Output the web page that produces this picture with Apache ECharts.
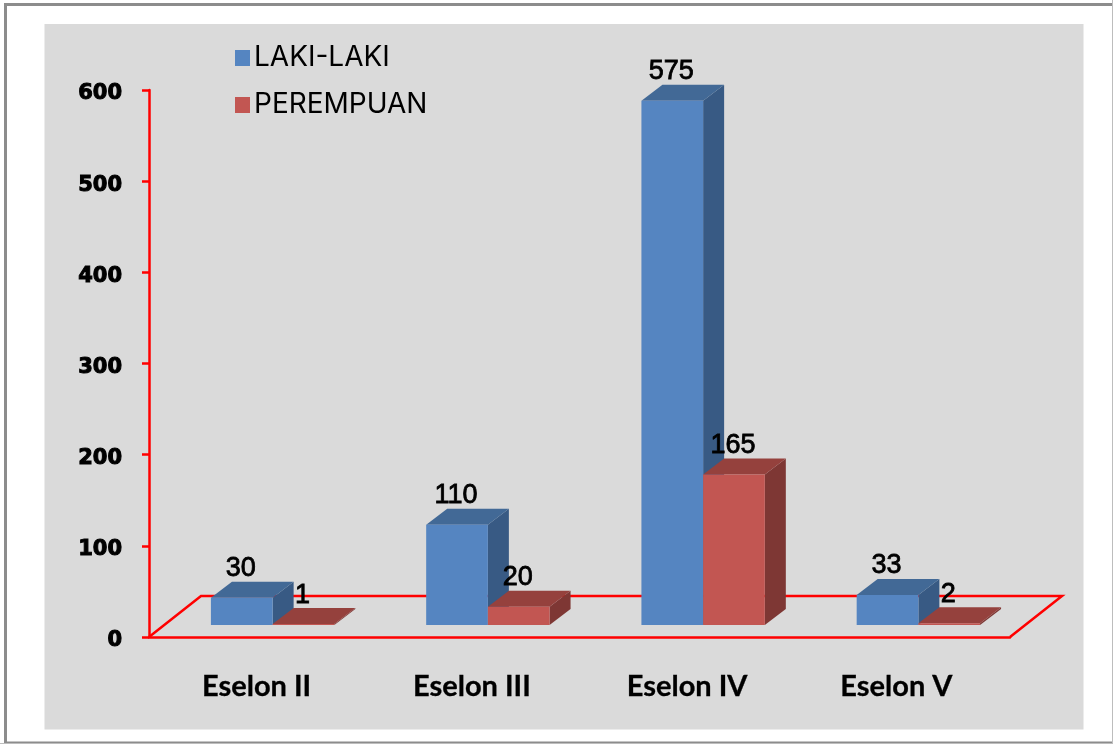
<!DOCTYPE html>
<html>
<head>
<meta charset="utf-8">
<style>
  html, body { margin: 0; padding: 0; background: #fff; }
  #main { width: 1113px; height: 744px; }
</style>
<script src="https://cdn.jsdelivr.net/npm/echarts@6/dist/echarts.min.js"></script>
</head>
<body>
<div id="main"></div>
<script>
// data
var categories = ["Eselon II", "Eselon III", "Eselon IV", "Eselon V"];
var lakiLaki = [30, 110, 575, 33];
var perempuan = [1, 20, 165, 2];

var blue = { front: "#5585c1", top: "#426996", side: "#385a84" };
var red = { front: "#c25652", top: "#95413d", side: "#7e3734" };

// fake 3d: the floor goes back (floorX, floorY), a bar sits (liftY) into it
var floorX = 52, floorY = 41;
var liftY = 12;
var depthX = 21, depthY = 16;
var barW = 61.7, shift = 16;

function barItem(colors, offset) {
  return function (params, api) {
    var i = api.value(0);
    var v = api.value(1);
    var top = api.coord([i, v]);
    var base = api.coord([i, 0]);
    var x0 = top[0] + shift + offset * barW;
    var x1 = x0 + barW;
    var y0 = top[1] - liftY;
    var y1 = base[1] - liftY;
    return {
      type: "group",
      children: [
        { type: "polygon", shape: { points: [[x1, y0], [x1 + depthX, y0 - depthY], [x1 + depthX, y1 - depthY], [x1, y1]] }, style: { fill: colors.side } },
        { type: "polygon", shape: { points: [[x0, y0], [x0 + depthX, y0 - depthY], [x1 + depthX, y0 - depthY], [x1, y0]] }, style: { fill: colors.top } },
        { type: "rect", shape: { x: x0, y: y0, width: barW, height: y1 - y0 }, style: { fill: colors.front } },
        {
          type: "text",
          z2: 50,
          style: {
            text: String(v), x: (x0 + x1) / 2 - 1, y: y0 - 29, align: "center", verticalAlign: "middle",
            font: "27px 'Liberation Sans'", fill: "#000", stroke: "#000", lineWidth: 0.8
          }
        }
      ]
    };
  };
}

// floor outline behind the bars
function floorItem(params) {
  var c = params.coordSys;
  var yb = c.y + c.height;
  return {
    type: "polyline",
    shape: { points: [[c.x, yb], [c.x + floorX, yb - floorY], [c.x + c.width + floorX, yb - floorY], [c.x + c.width, yb]] },
    style: { stroke: "#ff0000", lineWidth: 2.5, fill: null }
  };
}

var labelFont = { fontFamily: "Lato", fontWeight: "bold", fontSize: 29, color: "#000", textBorderColor: "#000", textBorderWidth: 0.3 };

var myChart = echarts.init(document.getElementById("main"));
myChart.setOption({
  animation: false,
  backgroundColor: "#fff",
  graphic: [
    { type: "rect", z: -10, shape: { x: 5.5, y: 4.5, width: 1200, height: 738.5 }, style: { fill: "#fff", stroke: "#8c8c8c", lineWidth: 3 } },
    { type: "rect", z: -10, shape: { x: 1112, y: 0, width: 1, height: 744 }, style: { fill: "#bdbdbd" } },
    { type: "rect", z: -10, shape: { x: 0, y: 743, width: 1113, height: 1 }, style: { fill: "#bdbdbd" } },
    { type: "rect", z: -9, shape: { x: 44.5, y: 24, width: 1039, height: 705.5 }, style: { fill: "#dadada" } }
  ],
  grid: { left: 149, right: 103, top: 90, bottom: 107 },
  legend: {
    orient: "vertical",
    left: 230,
    top: 39,
    itemWidth: 15,
    itemHeight: 16,
    itemGap: 19,
    icon: "rect",
    data: ["LAKI-LAKI", "PEREMPUAN"],
    textStyle: { fontFamily: "Inter", fontSize: 28, color: "#000", padding: [4, 0, 0, -1] }
  },
  xAxis: {
    type: "category",
    data: categories,
    axisLine: { lineStyle: { color: "#ff0000", width: 2.5 } },
    axisTick: { interval: 0, length: 10, lineStyle: { color: "#8a8a8a", width: 2 } },
    axisLabel: Object.assign({
      interval: 0,
      margin: 35,
      formatter: function (v, i) { return i === 3 ? "{last|" + v + "}" : v; },
      rich: { last: Object.assign({ padding: [0, 12, 0, 0] }, labelFont) }
    }, labelFont)
  },
  yAxis: {
    type: "value",
    min: 0,
    max: 600,
    interval: 100,
    splitLine: { show: false },
    axisLine: { show: true, lineStyle: { color: "#ff0000", width: 2.5 } },
    axisTick: { show: true, length: 7, lineStyle: { color: "#ff0000", width: 2.5 } },
    axisLabel: { margin: 27, verticalAlign: "top", lineHeight: 8, fontFamily: "DejaVu Sans", fontWeight: "bold", fontSize: 21, color: "#000", textBorderColor: "#000", textBorderWidth: 1 }
  },
  series: [
    { type: "custom", name: "floor", silent: true, z: 1, renderItem: floorItem, data: [[0, 0]] },
    { type: "custom", name: "LAKI-LAKI", z: 2, itemStyle: { color: blue.front }, renderItem: barItem(blue, -1), data: lakiLaki.map(function (v, i) { return [i, v]; }) },
    { type: "custom", name: "PEREMPUAN", z: 3, itemStyle: { color: red.front }, renderItem: barItem(red, 0), data: perempuan.map(function (v, i) { return [i, v]; }) }
  ]
});
</script>
</body>
</html>
